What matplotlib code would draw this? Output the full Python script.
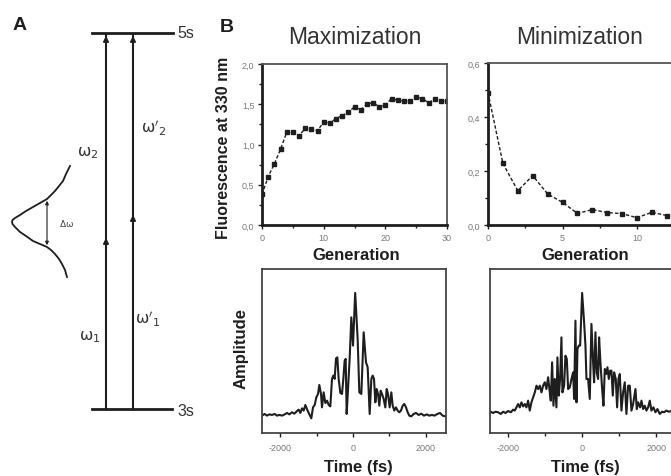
import matplotlib
matplotlib.use("Agg")
import matplotlib.pyplot as plt
from matplotlib.ticker import FixedLocator, FuncFormatter

plt.rcParams['font.family'] = ['Liberation Sans', 'DejaVu Sans']
plt.rcParams['mathtext.fontset'] = 'dejavusans'
plt.rcParams['axes.unicode_minus'] = False

# Panel B, top: fluorescence vs generation
gen_max = list(range(31))
fluo_max = [0.38, 0.60, 0.76, 0.94, 1.15, 1.15, 1.11, 1.20, 1.19, 1.17, 1.28,
            1.27, 1.32, 1.36, 1.40, 1.47, 1.43, 1.50, 1.52, 1.47, 1.49,
            1.57, 1.55, 1.54, 1.54, 1.59, 1.57, 1.52, 1.56, 1.54, 1.54]
gen_min = list(range(13))
fluo_min = [0.49, 0.228, 0.127, 0.183, 0.115, 0.084, 0.043, 0.057, 0.046,
            0.042, 0.027, 0.047, 0.035]

# Panel B, bottom: pulse amplitude vs time (fs)
t_max = [-2500, -2427, -2362, -2298, -2225, -2152, -2088, -2024, -1950, -1877,
         -1813, -1749, -1676, -1612, -1557, -1493, -1447, -1401, -1355, -1309,
         -1264, -1218, -1145, -1099, -1053, -1007, -961, -925, -879, -852,
         -806, -760, -714, -668, -623, -577, -540, -504, -467, -430,
         -394, -348, -302, -266, -229, -201, -174, -137, -92, -46,
         0, 60, 128, 174, 229, 293, 357, 403, 458, 504,
         540, 577, 614, 650, 687, 723, 760, 797, 842, 888,
         925, 961, 1007, 1053, 1090, 1135, 1181, 1227, 1273, 1319,
         1364, 1410, 1456, 1502, 1547, 1602, 1667, 1731, 1804, 1877,
         1950, 2024, 2097, 2170, 2243, 2317, 2390, 2463, 2536]
a_max = [0.124, 0.136, 0.124, 0.133, 0.129, 0.136, 0.124, 0.129, 0.124, 0.133,
         0.143, 0.133, 0.148, 0.138, 0.152, 0.167, 0.143, 0.176, 0.160, 0.200,
         0.171, 0.143, 0.105, 0.183, 0.200, 0.255, 0.279, 0.343, 0.279, 0.183,
         0.290, 0.214, 0.231, 0.200, 0.190, 0.386, 0.410, 0.386, 0.533, 0.540,
         0.386, 0.286, 0.279, 0.386, 0.517, 0.529, 0.136, 0.314, 0.529, 0.826,
         0.624, 1.0, 0.671, 0.290, 0.279, 0.719, 0.505, 0.469, 0.136, 0.386,
         0.410, 0.386, 0.219, 0.314, 0.279, 0.195, 0.302, 0.279, 0.243, 0.183,
         0.314, 0.279, 0.183, 0.290, 0.195, 0.160, 0.183, 0.160, 0.148, 0.160,
         0.195, 0.207, 0.183, 0.148, 0.124, 0.119, 0.136, 0.143, 0.129, 0.138,
         0.124, 0.133, 0.124, 0.129, 0.124, 0.136, 0.143, 0.124, 0.119]

t_min = [-2490, -2469, -2406, -2343, -2271, -2198, -2135, -2072, -2000, -1928,
         -1865, -1820, -1775, -1730, -1685, -1640, -1595, -1550, -1505, -1460,
         -1415, -1370, -1324, -1279, -1234, -1189, -1144, -1099, -1054, -1009,
         -964, -919, -874, -847, -811, -775, -739, -694, -667, -631,
         -595, -559, -532, -487, -451, -414, -378, -333, -288, -243,
         -216, -180, -153, -126, -90, -54, 0, 54, 90, 117,
         162, 207, 252, 297, 324, 360, 396, 432, 459, 495,
         541, 577, 613, 649, 685, 721, 757, 793, 829, 865,
         910, 946, 982, 1018, 1063, 1108, 1153, 1198, 1243, 1288,
         1334, 1379, 1442, 1478, 1514, 1568, 1604, 1649, 1694, 1739,
         1784, 1829, 1874, 1928, 1982, 2036, 2099, 2162, 2216, 2279,
         2343, 2406, 2480]
a_min = [0.148, 0.152, 0.143, 0.152, 0.148, 0.136, 0.152, 0.143, 0.157, 0.148,
         0.167, 0.160, 0.183, 0.207, 0.183, 0.219, 0.190, 0.207, 0.183, 0.231,
         0.160, 0.219, 0.255, 0.290, 0.338, 0.314, 0.338, 0.290, 0.338, 0.362,
         0.314, 0.398, 0.290, 0.231, 0.505, 0.195, 0.386, 0.183, 0.540, 0.267,
         0.386, 0.683, 0.290, 0.338, 0.552, 0.529, 0.314, 0.326, 0.386, 0.433,
         0.243, 0.802, 0.219, 0.600, 0.624, 0.624, 1.0, 0.790, 0.624, 0.386,
         0.386, 0.243, 0.779, 0.505, 0.362, 0.719, 0.433, 0.386, 0.683, 0.505,
         0.314, 0.195, 0.457, 0.421, 0.469, 0.386, 0.445, 0.445, 0.267, 0.433,
         0.386, 0.183, 0.386, 0.421, 0.160, 0.290, 0.362, 0.136, 0.338, 0.338,
         0.160, 0.207, 0.314, 0.171, 0.219, 0.183, 0.231, 0.171, 0.195, 0.160,
         0.183, 0.231, 0.160, 0.183, 0.148, 0.171, 0.136, 0.152, 0.148, 0.160,
         0.152, 0.157, 0.150]

# Panel A: sketch of the spectrum (pixel positions)
spec_x = [70, 66, 63, 59, 55, 51, 47, 40, 33, 26, 20, 15, 12.5, 12, 12.5, 15,
          20, 26, 33, 40, 47, 51, 55, 59, 62, 65, 67]
spec_y = [167, 175, 182, 187, 192, 196, 200, 204, 208, 212, 216, 219, 221, 223,
          225, 228, 233, 237, 242, 245, 248, 251, 255, 260, 265, 271, 278]

W, H = 671, 477
fig = plt.figure(figsize=(W / 100, H / 100), dpi=100)

ink = '#1e1e1e'
grey = '#7a7a7a'

# overlay in pixel coordinates for panel A and free text
ov = fig.add_axes([0, 0, 1, 1], zorder=0)
ov.set_xlim(0, W)
ov.set_ylim(H, 0)
ov.axis('off')

# energy levels
ov.plot([92, 173], [34, 34], color=ink, lw=2)
ov.plot([92, 172], [410, 410], color=ink, lw=2)
ov.text(177, 34, '5s', fontsize=11.5, color='#333', va='center', ha='left')
ov.text(177, 412, '3s', fontsize=11.5, color='#333', va='center', ha='left')
for xv, ymid in [(106, 240), (133, 217)]:
    ov.plot([xv, xv], [410, 36], color=ink, lw=1.5)
    ov.annotate('', xy=(xv, 34), xytext=(xv, 46),
                arrowprops=dict(arrowstyle='-|>', color=ink, lw=1.2, mutation_scale=8))
    ov.annotate('', xy=(xv, ymid - 4), xytext=(xv, ymid + 8),
                arrowprops=dict(arrowstyle='-|>', color=ink, lw=1.2, mutation_scale=8))
omega = dict(fontsize=11.5, color='#333', ha='center', va='center')
ov.text(88, 153, r'$\mathrm{\omega}_2$', **omega)
ov.text(154, 127, r"$\mathrm{\omega}'_2$", **omega)
ov.text(90, 337, r'$\mathrm{\omega}_1$', **omega)
ov.text(148, 318, r"$\mathrm{\omega}'_1$", **omega)
ov.plot(spec_x, spec_y, color=ink, lw=1.3)
ov.annotate('', xy=(47, 199), xytext=(47, 249),
            arrowprops=dict(arrowstyle='<|-|>', color=ink, lw=0.8, mutation_scale=5))
ov.text(59, 224, r'$\mathrm{\Delta\omega}$', fontsize=6.5, color='#444', ha='left', va='center')

# panel letters and titles
ov.text(20, 26, 'A', fontsize=14, fontweight='bold', color=ink, ha='center', va='center')
ov.text(227, 27, 'B', fontsize=14, fontweight='bold', color=ink, ha='center', va='center')
ov.text(355, 37, 'Maximization', fontsize=16.5, color='#333', ha='center', va='center')
ov.text(580, 37, 'Minimization', fontsize=16.5, color='#333', ha='center', va='center')

# axis labels
lab = dict(fontsize=12, fontweight='bold', color=ink, ha='center', va='center')
ov.text(223, 148, 'Fluorescence at 330 nm', rotation=90, fontsize=11.5,
        fontweight='bold', color=ink, ha='center', va='center')
ov.text(356, 256, 'Generation', **lab)
ov.text(585, 256, 'Generation', **lab)
ov.text(241, 349, 'Amplitude', rotation=90, **lab)
ov.text(358, 468, 'Time (fs)', **lab)
ov.text(585, 468, 'Time (fs)', **lab)


def comma(v, pos):
    return f'{v:.1f}'.replace('.', ',')


def style(ax, pad):
    ax.tick_params(axis='both', which='major', labelsize=6.5, labelcolor=grey,
                   length=3, width=1, color=ink, pad=pad)
    ax.tick_params(axis='both', which='minor', length=2, width=1, color=ink)


# Maximization, generations
ax1 = fig.add_axes([262 / W, (H - 226) / H, 185 / W, 161 / H], zorder=2)
ax1.plot(gen_max, fluo_max, color=ink, lw=1, ls=(0, (2.5, 1.5)),
         marker='s', ms=3, mfc=ink, mec=ink)
ax1.set_xlim(0, 30)
ax1.set_ylim(0, 2)
ax1.xaxis.set_major_locator(FixedLocator([0, 10, 20, 30]))
ax1.xaxis.set_minor_locator(FixedLocator([5, 15, 25]))
ax1.yaxis.set_major_locator(FixedLocator([0, 0.5, 1.0, 1.5, 2.0]))
ax1.yaxis.set_minor_locator(FixedLocator([0.25, 0.75, 1.25, 1.75]))
ax1.yaxis.set_major_formatter(FuncFormatter(comma))
style(ax1, 2.5)

# Minimization, generations
ax2 = fig.add_axes([488 / W, (H - 226) / H, 223.5 / W, 162 / H], zorder=2)
ax2.plot(gen_min, fluo_min, color=ink, lw=1, ls=(0, (2.5, 1.5)),
         marker='s', ms=3, mfc=ink, mec=ink)
ax2.set_xlim(0, 15)
ax2.set_ylim(0, 0.6)
ax2.xaxis.set_major_locator(FixedLocator([0, 5, 10]))
ax2.xaxis.set_minor_locator(FixedLocator([2.5, 7.5]))
ax2.yaxis.set_major_locator(FixedLocator([0, 0.2, 0.4, 0.6]))
ax2.yaxis.set_minor_locator(FixedLocator([0.1, 0.3, 0.5]))
ax2.yaxis.set_major_formatter(FuncFormatter(comma))
style(ax2, 2.5)

for ax in (ax1, ax2):
    ax.spines['left'].set_linewidth(2)
    ax.spines['bottom'].set_linewidth(2)
    ax.spines['left'].set_color(ink)
    ax.spines['bottom'].set_color(ink)
    ax.spines['top'].set_linewidth(1.3)
    ax.spines['right'].set_linewidth(1.3)
    ax.spines['top'].set_color('#555')
    ax.spines['right'].set_color('#555')

# Maximization, pulse shape
ax3 = fig.add_axes([262 / W, (H - 434) / H, 184 / W, 164 / H], zorder=2)
ax3.plot(t_max, a_max, color=ink, lw=1.5)
ax3.set_xlim(-2500, 2555)
ax3.set_ylim(0, 1.171)

# Minimization, pulse shape
ax4 = fig.add_axes([490 / W, (H - 434) / H, 184.6 / W, 164 / H], zorder=2)
ax4.plot(t_min, a_min, color=ink, lw=1.5)
ax4.set_xlim(-2490, 2500)
ax4.set_ylim(0, 1.171)

for ax in (ax3, ax4):
    ax.xaxis.set_major_locator(FixedLocator([-2000, 0, 2000]))
    ax.xaxis.set_minor_locator(FixedLocator([-1000, 1000]))
    ax.set_yticks([])
    style(ax, 4)
    for s in ax.spines.values():
        s.set_linewidth(1.3)
        s.set_color('#444')

fig.savefig('out.png', dpi=100)
